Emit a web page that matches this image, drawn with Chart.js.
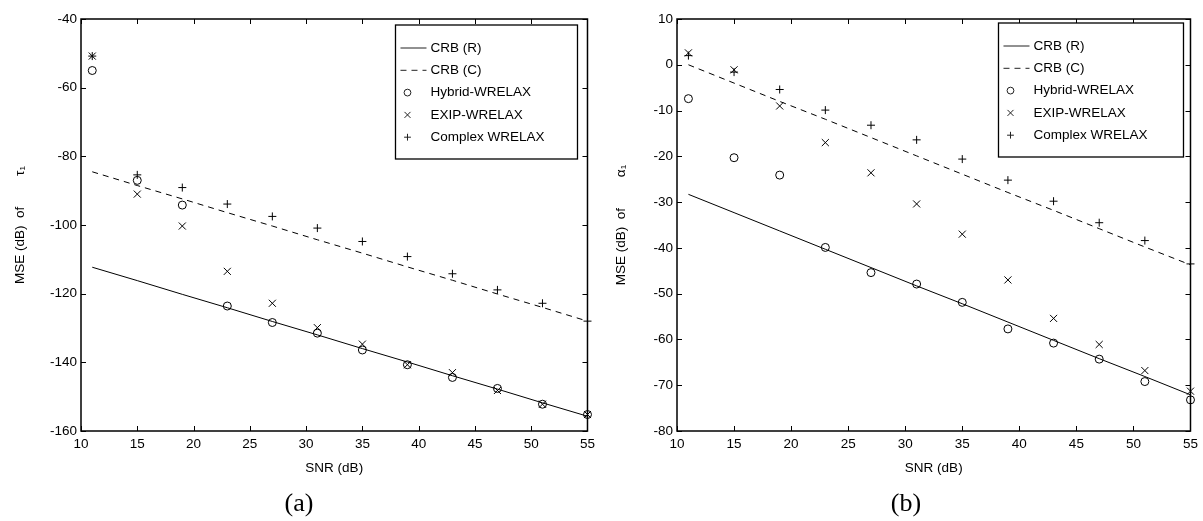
<!DOCTYPE html>
<html><head><meta charset="utf-8">
<script src="https://cdn.jsdelivr.net/npm/chart.js@4.4.1/dist/chart.umd.min.js"></script>
<style>
html,body{margin:0;padding:0;background:#fff;width:1203px;height:521px;overflow:hidden;}
#c1{position:absolute;left:0;top:0;}
#c2{position:absolute;left:600px;top:0;}
.cap{position:absolute;font-family:"Liberation Serif","DejaVu Serif",serif;font-size:26px;color:#000;transform:translate(-50%,-50%);white-space:nowrap;}
</style></head><body>
<canvas id="c1" width="600" height="521"></canvas>
<canvas id="c2" width="603" height="521"></canvas>
<div class="cap" style="left:299px;top:503px">(a)</div>
<div class="cap" style="left:906px;top:503px">(b)</div>
<script>
// ---- data ----
const snr = [11, 15, 19, 23, 27, 31, 35, 39, 43, 47, 51, 55];
const seriesNames = ['CRB (R)', 'CRB (C)', 'Hybrid-WRELAX', 'EXIP-WRELAX', 'Complex WRELAX'];

// (a) MSE of tau_1
const a_crbR    = [-112.3, -116.2, -120.2, -124.1, -128.1, -132.0, -136.0, -139.9, -143.9, -147.8, -151.8, -155.7];
const a_crbC    = [-84.5, -88.5, -92.4, -96.4, -100.3, -104.3, -108.2, -112.2, -116.1, -120.1, -124.0, -128.0];
const a_hybrid  = [-55.0, -87.0, -94.2, -123.6, -128.4, -131.5, -136.4, -140.7, -144.4, -147.6, -152.2, -155.2];
const a_exip    = [-50.8, -91.0, -100.3, -113.5, -122.8, -129.9, -134.7, -140.7, -143.0, -148.2, -152.2, -155.2];
const a_complex = [-50.8, -85.4, -89.1, -93.9, -97.5, -100.9, -104.8, -109.2, -114.2, -118.9, -122.8, -128.0];

// (b) MSE of alpha_1
const b_crbR    = [-28.3, -32.3, -36.3, -40.3, -44.3, -48.3, -52.2, -56.2, -60.2, -64.2, -68.1, -72.1];
const b_crbC    = [0.0, -4.0, -8.0, -11.9, -15.9, -19.9, -23.9, -27.9, -31.8, -35.8, -39.8, -43.7];
const b_hybrid  = [-7.4, -20.3, -24.1, -39.9, -45.4, -47.9, -51.9, -57.7, -60.8, -64.3, -69.2, -73.2];
const b_exip    = [2.6, -1.1, -9.0, -17.0, -23.6, -30.4, -37.0, -47.0, -55.4, -61.1, -66.8, -71.3];
const b_complex = [2.0, -1.6, -5.4, -9.9, -13.2, -16.4, -20.6, -25.2, -29.8, -34.5, -38.4, -43.5];

const xLabel = 'SNR (dB)';
const yLabelA = 'MSE (dB)  of\u2002\u2002\u2002\u2002 \u03c4\u2081';
const yLabelB = 'MSE (dB)  of\u2002\u2002\u2002\u2002 \u03b1\u2081';

// ---- rendering ----
const FAMILY = '"Liberation Sans", Arial, Helvetica, sans-serif';
Chart.defaults.font.family = FAMILY;
Chart.defaults.font.size = 13.5;
Chart.defaults.color = '#000';

function pts(ys) { return snr.map((x, i) => ({x: x, y: ys[i]})); }

function buildDatasets(crbR, crbC, hyb, exip, cplx) {
  const mk = {borderColor: '#000', backgroundColor: 'rgba(0,0,0,0)', clip: false};
  return [
    Object.assign({label: seriesNames[0], data: pts(crbR), showLine: true, borderWidth: 1, pointRadius: 0}, mk),
    Object.assign({label: seriesNames[1], data: pts(crbC), showLine: true, borderWidth: 1, borderDash: [6, 5], pointRadius: 0}, mk),
    Object.assign({label: seriesNames[2], data: pts(hyb), showLine: false, pointStyle: 'circle', pointRadius: 4, pointBorderWidth: 1}, mk),
    Object.assign({label: seriesNames[3], data: pts(exip), showLine: false, pointStyle: 'crossRot', pointRadius: 5, pointBorderWidth: 1}, mk),
    Object.assign({label: seriesNames[4], data: pts(cplx), showLine: false, pointStyle: 'cross', pointRadius: 4, pointBorderWidth: 1}, mk)
  ];
}

const framePlugin = {
  id: 'frame',
  afterDatasetsDraw(chart) {
    const a = chart.chartArea, ctx = chart.ctx, xs = chart.scales.x, ys = chart.scales.y;
    ctx.save();
    ctx.strokeStyle = '#000';
    ctx.lineWidth = 1.5;
    ctx.strokeRect(a.left, a.top, a.right - a.left, a.bottom - a.top);
    ctx.lineWidth = 1;
    const L = 5;
    ctx.beginPath();
    xs.ticks.forEach(t => {
      const p = Math.round(xs.getPixelForValue(t.value)) + 0.5;
      ctx.moveTo(p, a.bottom); ctx.lineTo(p, a.bottom - L);
      ctx.moveTo(p, a.top); ctx.lineTo(p, a.top + L);
    });
    ys.ticks.forEach(t => {
      const p = Math.round(ys.getPixelForValue(t.value)) + 0.5;
      ctx.moveTo(a.left, p); ctx.lineTo(a.left + L, p);
      ctx.moveTo(a.right, p); ctx.lineTo(a.right - L, p);
    });
    ctx.stroke();
    ctx.restore();
  }
};

const legendPlugin = {
  id: 'boxLegend',
  afterDatasetsDraw(chart, args, o) {
    const a = chart.chartArea, ctx = chart.ctx;
    const x0 = a.right - o.dx - o.w, y0 = a.top + o.dy;
    ctx.save();
    ctx.fillStyle = '#fff';
    ctx.fillRect(x0, y0, o.w, o.h);
    ctx.strokeStyle = '#000';
    ctx.lineWidth = 1.3;
    ctx.strokeRect(x0, y0, o.w, o.h);
    ctx.font = '13.5px ' + FAMILY;
    ctx.textBaseline = 'middle';
    ctx.textAlign = 'left';
    chart.data.datasets.forEach((ds, i) => {
      const y = y0 + 23 + i * 22.3;
      ctx.strokeStyle = '#222';
      ctx.lineWidth = 1;
      if (ds.showLine) {
        ctx.setLineDash(ds.borderDash || []);
        ctx.beginPath();
        ctx.moveTo(x0 + 5, y); ctx.lineTo(x0 + 31, y);
        ctx.stroke();
        ctx.setLineDash([]);
      } else {
        ctx.fillStyle = 'rgba(0,0,0,0)';
        Chart.helpers.drawPoint(ctx, {pointStyle: ds.pointStyle, radius: ds.pointRadius * 0.85, borderWidth: 1, rotation: 0}, x0 + 12, y);
      }
      ctx.fillStyle = '#000';
      ctx.fillText(ds.label, x0 + 35, y);
    });
    ctx.restore();
  }
};

function makeChart(id, dsets, yMin, yMax, yStep, yTitle, yWidth, yTitlePad, rightPad, legendOpts) {
  return new Chart(document.getElementById(id), {
    type: 'scatter',
    data: {datasets: dsets},
    options: {
      responsive: false,
      animation: false,
      events: [],
      layout: {padding: {top: 19, right: rightPad, left: 0, bottom: 0}},
      plugins: {legend: {display: false}, tooltip: {enabled: false}, boxLegend: legendOpts},
      scales: {
        x: {
          type: 'linear', min: 10, max: 55,
          ticks: {stepSize: 5, padding: 5, maxRotation: 0, color: '#000'},
          grid: {display: false, drawTicks: false},
          border: {display: false},
          title: {display: true, text: xLabel, color: '#000', padding: {top: 0, bottom: 45}},
          afterFit(s) { s.height = 90; }
        },
        y: {
          type: 'linear', min: yMin, max: yMax,
          ticks: {stepSize: yStep, padding: 4, color: '#000'},
          grid: {display: false, drawTicks: false},
          border: {display: false},
          title: {display: true, text: yTitle, color: '#000', padding: {top: yTitlePad, bottom: 0}},
          afterFit(s) { s.width = yWidth; }
        }
      }
    },
    plugins: [framePlugin, legendPlugin]
  });
}

makeChart('c1', buildDatasets(a_crbR, a_crbC, a_hybrid, a_exip, a_complex), -160, -40, 20, yLabelA, 81, 12, 10.5, {w: 182, h: 134, dx: 10, dy: 6});
makeChart('c2', buildDatasets(b_crbR, b_crbC, b_hybrid, b_exip, b_complex), -80, 10, 10, yLabelB, 77, 13, 11, {w: 185, h: 134, dx: 7, dy: 4});
</script>
</body></html>
